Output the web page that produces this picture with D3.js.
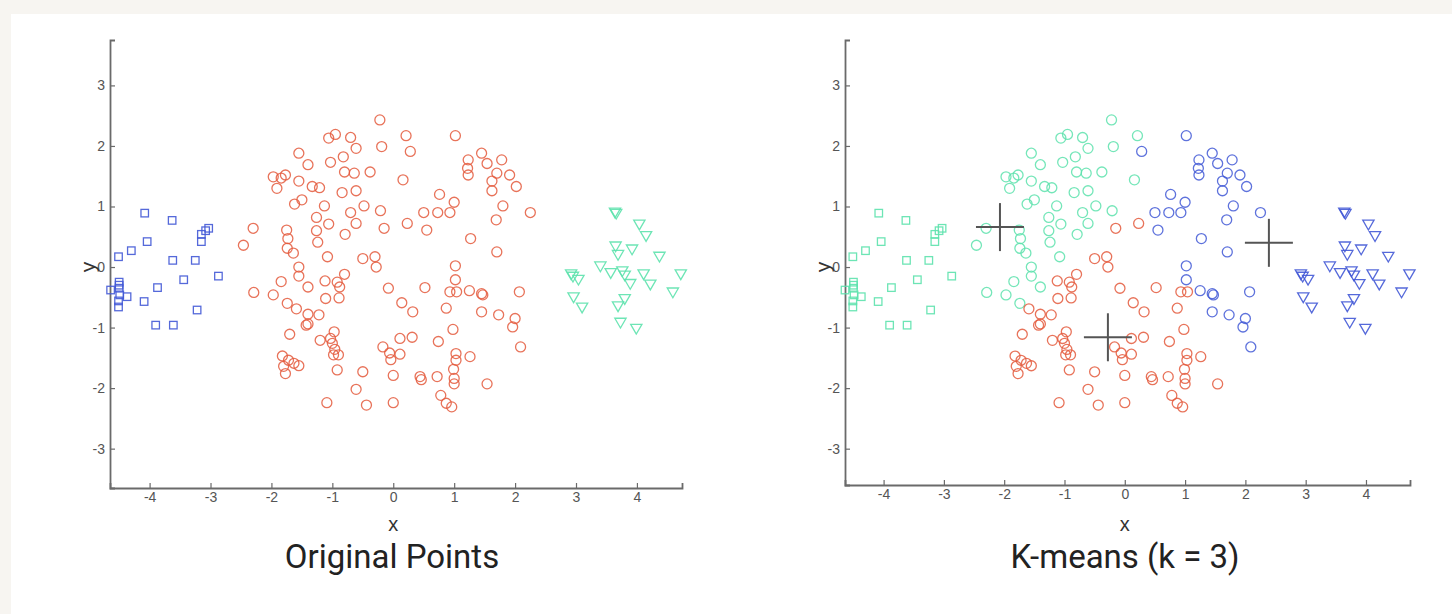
<!DOCTYPE html>
<html>
<head>
<meta charset="utf-8">
<script src="https://cdn.jsdelivr.net/npm/d3@7"></script>
<style>
  html, body { margin: 0; padding: 0; background: #f7f5f1; }
  svg { display: block; }
</style>
</head>
<body>
<svg id="chart" width="1452" height="614"></svg>
<script>
// ---------- DATA ----------
const titles = ["Original Points", "K-means (k = 3)"];
const xTicks = [-4, -3, -2, -1, 0, 1, 2, 3, 4];
const yTicks = [-3, -2, -1, 0, 1, 2, 3];

// square markers [x, y]
const squares = [
  [-4.08, 0.89], [-3.63, 0.77], [-3.15, 0.54], [-3.08, 0.60], [-3.03, 0.64],
  [-3.15, 0.42], [-4.04, 0.42], [-4.30, 0.27], [-4.51, 0.17], [-3.62, 0.11],
  [-3.25, 0.11], [-2.87, -0.15], [-3.44, -0.21], [-3.87, -0.34], [-4.50, -0.25],
  [-4.50, -0.35], [-4.64, -0.38], [-4.49, -0.46], [-4.37, -0.49], [-4.51, -0.66],
  [-4.09, -0.57], [-3.22, -0.71], [-3.90, -0.96], [-3.61, -0.96], [-4.50, -0.30],
  [-4.51, -0.56]
];

// triangle markers [x, y]
const triangles = [
  [3.64, 0.92], [3.66, 0.90], [4.04, 0.72], [4.15, 0.53], [3.65, 0.36],
  [3.92, 0.31], [3.69, 0.22], [4.37, 0.19], [3.40, 0.03], [3.57, -0.08],
  [3.76, -0.05], [2.92, -0.10], [4.11, -0.10], [4.72, -0.10], [2.95, -0.14],
  [3.04, -0.19], [3.80, -0.12], [3.89, -0.26], [4.22, -0.27], [4.59, -0.40],
  [2.96, -0.48], [3.10, -0.65], [3.80, -0.51], [3.69, -0.63], [3.73, -0.90],
  [3.99, -1.00]
];

// circle markers [x, y, k-means cluster: g = green, r = red, b = blue]
const circles = [
  [-0.22, 2.43, "g"], [-1.06, 2.13, "g"], [-0.95, 2.19, "g"], [-0.70, 2.14, "g"], [-0.61, 1.96, "g"],
  [-0.19, 1.99, "g"], [0.21, 2.17, "g"], [0.28, 1.91, "b"], [1.02, 2.17, "b"], [-1.55, 1.88, "g"],
  [-1.40, 1.69, "g"], [-1.03, 1.73, "g"], [-0.82, 1.82, "g"], [-0.80, 1.57, "g"], [-0.64, 1.55, "g"],
  [-0.38, 1.57, "g"], [-1.97, 1.49, "g"], [-1.77, 1.52, "g"], [-1.84, 1.47, "g"], [-1.91, 1.30, "g"],
  [-1.55, 1.42, "g"], [-1.33, 1.33, "g"], [-1.21, 1.31, "g"], [-0.84, 1.23, "g"], [-0.61, 1.26, "g"],
  [0.16, 1.44, "g"], [1.23, 1.77, "b"], [1.22, 1.63, "b"], [1.23, 1.52, "b"], [1.45, 1.88, "b"],
  [1.54, 1.71, "b"], [1.78, 1.77, "b"], [1.70, 1.55, "b"], [1.62, 1.42, "b"], [1.91, 1.52, "b"],
  [2.02, 1.33, "b"], [1.62, 1.26, "b"], [-1.62, 1.04, "g"], [-1.50, 1.11, "g"], [-1.13, 1.01, "g"],
  [-1.26, 0.82, "g"], [-1.06, 0.71, "g"], [-1.26, 0.60, "g"], [-1.24, 0.41, "g"], [-0.70, 0.90, "g"],
  [-0.48, 1.01, "g"], [-0.21, 0.93, "g"], [-0.61, 0.72, "g"], [-0.79, 0.54, "g"], [-0.15, 0.64, "r"],
  [0.23, 0.72, "r"], [0.55, 0.61, "b"], [0.50, 0.90, "b"], [0.73, 0.90, "b"], [0.76, 1.20, "b"],
  [0.93, 0.90, "b"], [1.00, 1.07, "b"], [1.80, 1.01, "b"], [1.69, 0.78, "b"], [2.25, 0.90, "b"],
  [1.27, 0.47, "b"], [-2.30, 0.64, "g"], [-2.46, 0.36, "g"], [-1.75, 0.61, "g"], [-1.73, 0.47, "g"],
  [-1.74, 0.31, "g"], [-1.64, 0.23, "g"], [-1.08, 0.17, "g"], [-0.50, 0.14, "r"], [-0.30, 0.17, "r"],
  [1.70, 0.25, "b"], [-1.55, 0.00, "g"], [-1.55, -0.15, "g"], [-0.28, 0.00, "r"], [1.02, 0.02, "b"],
  [1.02, -0.21, "b"], [0.93, -0.41, "r"], [1.04, -0.41, "r"], [1.25, -0.39, "b"], [1.45, -0.44, "b"],
  [1.47, -0.46, "b"], [2.07, -0.41, "b"], [0.52, -0.34, "r"], [-0.08, -0.35, "r"], [0.14, -0.59, "r"],
  [0.32, -0.74, "r"], [0.87, -0.68, "r"], [1.45, -0.74, "b"], [1.73, -0.79, "b"], [2.00, -0.85, "b"],
  [1.96, -0.99, "b"], [2.09, -1.32, "b"], [0.98, -1.03, "r"], [0.74, -1.23, "r"], [1.26, -1.48, "r"],
  [1.03, -1.43, "r"], [1.03, -1.54, "r"], [0.99, -1.69, "r"], [1.00, -1.84, "r"], [1.00, -1.93, "r"],
  [0.72, -1.81, "r"], [0.44, -1.81, "r"], [0.46, -1.86, "r"], [0.78, -2.12, "r"], [0.87, -2.25, "r"],
  [0.96, -2.31, "r"], [1.54, -1.93, "r"], [0.00, -1.79, "r"], [0.00, -2.24, "r"], [-0.44, -2.28, "r"],
  [-0.61, -2.02, "r"], [-0.50, -1.73, "r"], [-0.92, -1.70, "r"], [-1.09, -2.24, "r"], [-1.82, -1.47, "r"],
  [-1.72, -1.54, "r"], [-1.63, -1.59, "r"], [-1.55, -1.63, "r"], [-1.77, -1.76, "r"], [-1.80, -1.64, "r"],
  [-1.70, -1.11, "r"], [-1.20, -1.21, "r"], [-1.03, -1.18, "r"], [-0.97, -1.07, "r"], [-1.00, -1.26, "r"],
  [-0.96, -1.36, "r"], [-0.98, -1.45, "r"], [-0.90, -1.45, "r"], [-0.17, -1.32, "r"], [-0.06, -1.42, "r"],
  [-0.04, -1.53, "r"], [0.11, -1.44, "r"], [0.11, -1.18, "r"], [0.31, -1.16, "r"], [-2.29, -0.42, "g"],
  [-1.97, -0.46, "g"], [-1.84, -0.24, "g"], [-1.40, -0.33, "g"], [-1.74, -0.60, "g"], [-1.59, -0.69, "r"],
  [-1.40, -0.78, "r"], [-1.22, -0.79, "r"], [-1.43, -0.96, "r"], [-1.40, -0.94, "r"], [-1.12, -0.23, "r"],
  [-0.92, -0.25, "r"], [-0.80, -0.12, "r"], [-0.88, -0.33, "r"], [-1.11, -0.52, "r"], [-0.89, -0.51, "r"]
];

// k-means centroids (right panel) [x, y]
const centroids = [[-2.07, 0.66], [-0.28, -1.16], [2.39, 0.40]];

// ---------- STYLE ----------
const COLORS = { b: "#4259d6", r: "#e45a3d", g: "#5de2ad" };
const FONT = "'Liberation Sans', Arial, sans-serif";

const svg = d3.select("#chart");
svg.append("rect").attr("x", 11).attr("y", 14).attr("width", 1441).attr("height", 600).attr("fill", "#ffffff");

const panels = [
  { title: titles[0], xr: [110, 682], yr: [488, 40], xd: [-4.65, 4.74], yd: [-3.65, 3.75],
    sq: COLORS.b, tri: COLORS.g, circ: () => COLORS.r, cents: false, cx: 392, ylabX: 95 },
  { title: titles[1], xr: [845, 1410], yr: [485, 40], xd: [-4.64, 4.73], yd: [-3.60, 3.75],
    sq: COLORS.g, tri: COLORS.b, circ: d => COLORS[d[2]], cents: true, cx: 1125, ylabX: 830 }
];

panels.forEach(p => {
  const x = d3.scaleLinear().domain(p.xd).range(p.xr);
  const y = d3.scaleLinear().domain(p.yd).range(p.yr);
  const g = svg.append("g");

  // axes
  const xAxis = d3.axisBottom(x).tickValues(xTicks).tickSize(-5).tickPadding(4).tickFormat(d3.format("d"));
  const yAxis = d3.axisLeft(y).tickValues(yTicks).tickSize(-5).tickPadding(5).tickFormat(d3.format("d"));
  const gx = g.append("g").attr("transform", `translate(0,${p.yr[0]})`).call(xAxis);
  const gy = g.append("g").attr("transform", `translate(${p.xr[0]},0)`).call(yAxis);
  [gx, gy].forEach(a => {
    a.attr("font-size", null);
    a.select(".domain").attr("stroke", "#6a6a6a").attr("stroke-width", 1.8);
    a.selectAll(".tick line").attr("stroke", "#6a6a6a").attr("stroke-width", 1.2);
    a.selectAll(".tick text").attr("fill", "#555").style("font-size", "14px").attr("font-family", FONT);
  });
  // matlab-style hyphen minus
  g.selectAll(".tick text").text(d => (d < 0 ? "-" + Math.abs(d) : d));

  // axis labels
  g.append("text").attr("x", x(0)).attr("y", 531).attr("text-anchor", "middle")
    .attr("font-family", FONT).style("font-size", "20px").attr("fill", "#333").text("x");
  g.append("text").attr("transform", `translate(${p.ylabX},${y(0)}) rotate(-90)`)
    .attr("text-anchor", "middle").attr("font-family", FONT).style("font-size", "21px").attr("fill", "#333").text("y");

  // title
  g.append("text").attr("x", p.cx).attr("y", 568).attr("text-anchor", "middle")
    .attr("font-family", "Roboto, 'Open Sans', sans-serif").style("font-size", "33px").attr("fill", "#222")
    .text(p.title);

  const marks = g.append("g").attr("fill", "none").attr("stroke-width", 1.3);

  // circles
  marks.selectAll("circle.c").data(circles).join("circle")
    .attr("cx", d => x(d[0])).attr("cy", d => y(d[1])).attr("r", 5)
    .attr("stroke", p.circ).attr("stroke-opacity", 0.85);

  // squares
  const s = 7.5;
  marks.selectAll("rect.s").data(squares).join("rect")
    .attr("x", d => x(d[0]) - s / 2).attr("y", d => y(d[1]) - s / 2)
    .attr("width", s).attr("height", s).attr("stroke", p.sq).attr("stroke-opacity", 0.9);

  // triangles (pointing down)
  const tri = d3.symbol().type(d3.symbolTriangle).size(55);
  marks.selectAll("path.t").data(triangles).join("path")
    .attr("d", tri).attr("transform", d => `translate(${x(d[0])},${y(d[1])}) rotate(180)`)
    .attr("stroke", p.tri).attr("stroke-opacity", 0.9);

  // centroids
  if (p.cents) {
    const h = 24;
    const cg = g.append("g").attr("stroke", "#555").attr("stroke-width", 2);
    cg.selectAll("line.h").data(centroids).join("line")
      .attr("x1", d => x(d[0]) - h).attr("x2", d => x(d[0]) + h)
      .attr("y1", d => y(d[1])).attr("y2", d => y(d[1]));
    cg.selectAll("line.v").data(centroids).join("line")
      .attr("x1", d => x(d[0])).attr("x2", d => x(d[0]))
      .attr("y1", d => y(d[1]) - h).attr("y2", d => y(d[1]) + h);
  }
});
</script>
</body>
</html>
